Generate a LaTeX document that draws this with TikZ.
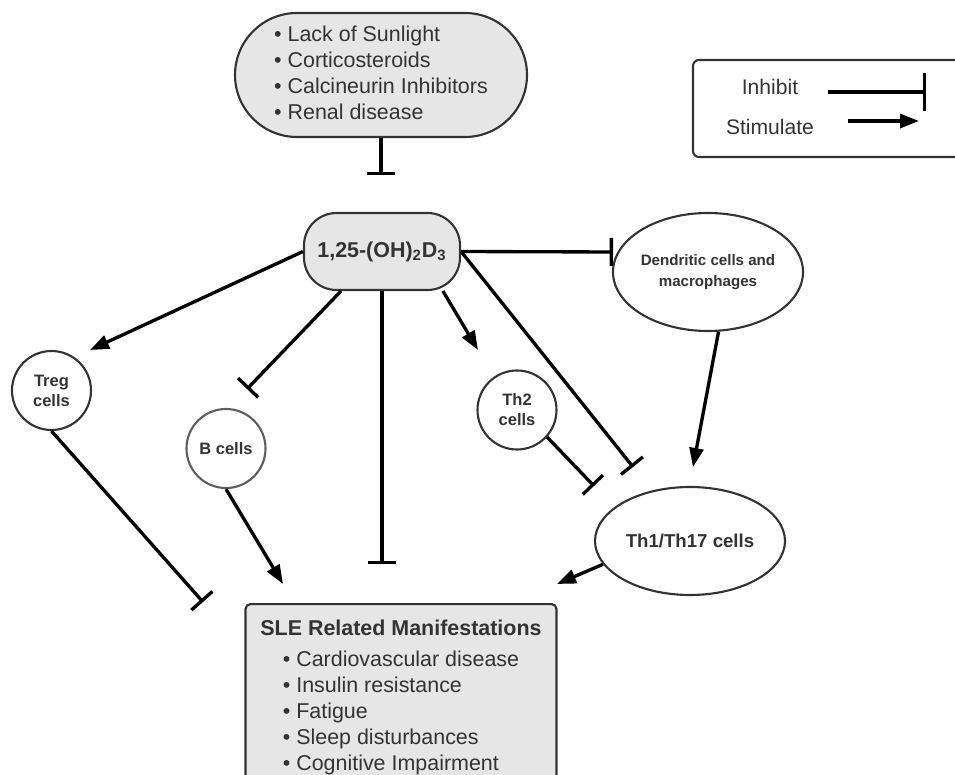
\documentclass[tikz,border=0pt]{standalone}
\usepackage{fontspec}
\setmainfont{Liberation Sans}
\usepackage{xcolor}
\usepackage{tikz}
\usetikzlibrary{arrows.meta,shapes.geometric}
\definecolor{ink}{HTML}{333333}
\definecolor{boxgray}{HTML}{E6E6E6}
\definecolor{midgray}{HTML}{5E5E5E}

\begin{document}
\begin{tikzpicture}[
  x=0.2mm,y=-0.2mm,
  every node/.style={text=ink},
  pill/.style={draw=ink,line width=1.2pt,fill=boxgray,rounded corners=12.4mm,
    minimum width=58.4mm,minimum height=24.8mm,font=\fontsize{12.2}{14.8}\selectfont},
  hormone/.style={draw=ink,line width=1.2pt,fill=boxgray,rounded corners=6.5mm,
    minimum width=31.2mm,minimum height=15.4mm,font=\bfseries\fontsize{12.2}{14.8}\selectfont},
  cell/.style={circle,draw=ink,line width=1.2pt,minimum size=15.8mm,inner sep=0pt,
    align=center,font=\bfseries\fontsize{9.4}{11.4}\selectfont},
  oval/.style={ellipse,draw=ink,line width=1.2pt,inner sep=0pt,align=center},
  outcome/.style={draw=ink,line width=1.2pt,fill=boxgray,rounded corners=1mm,anchor=north,
    minimum width=62.2mm,inner ysep=3.2mm,align=center,font=\fontsize{12.2}{14.8}\selectfont},
  legendbox/.style={draw=ink,line width=1.2pt,rounded corners=1.2mm,
    minimum width=56.4mm,minimum height=19.4mm},
  legendtext/.style={font=\fontsize{12}{14.4}\selectfont},
  stim/.style={-{Triangle[length=3.8mm,width=2.8mm]},line width=1.9pt,draw=black},
  inh/.style={-{Bar[width=5.6mm]},line width=1.9pt,draw=black}
]
\useasboundingbox (0,0) rectangle (955,775);

% legend
\node[legendbox] (legend) at (834,108.5) {};
\node[legendtext] (inhlbl) at (770,87) {Inhibit};
\node[legendtext] (stimlbl) at (770,127) {Stimulate};
\coordinate (inhfrom) at (828,92);
\coordinate (inhto) at (926,92);
\coordinate (stimfrom) at (848,121);
\coordinate (stimto) at (919,121);
\draw[inh,-{Bar[width=7.6mm]}] (inhfrom)--(inhto);
\draw[stim] (stimfrom)--(stimto);

% nodes
\node[pill] (causes) at (381,75) {\begin{tabular}{@{}l@{}}
  \textbullet\ Lack of Sunlight\\
  \textbullet\ Corticosteroids\\
  \textbullet\ Calcineurin Inhibitors\\
  \textbullet\ Renal disease
\end{tabular}};
\node[hormone] (vitd) at (382,251.5) {1,25-(OH)\textsubscript{2}D\textsubscript{3}};
\node[oval,minimum width=29.6mm,minimum height=23.6mm,
  font=\bfseries\fontsize{8.6}{11.8}\selectfont] (dc) at (708,272) {Dendritic cells and\\macrophages};
\node[cell] (treg) at (51.5,390.5) {Treg\\cells};
\node[cell,draw=midgray] (bcell) at (226,448.5) {B cells};
\node[cell] (th2) at (517,410) {Th2\\cells};
\node[oval,minimum width=38mm,minimum height=21.6mm,
  font=\bfseries\fontsize{10.6}{12.8}\selectfont] (th1) at (690,541) {Th1/Th17 cells};
\node[outcome] (sle) at (401,603) {{\bfseries SLE Related Manifestations}\\[2.8pt]
  \begin{tabular}[t]{@{}l@{}}
  \textbullet\ Cardiovascular disease\\
  \textbullet\ Insulin resistance\\
  \textbullet\ Fatigue\\
  \textbullet\ Sleep disturbances\\
  \textbullet\ Cognitive Impairment
  \end{tabular}};

% free ends
\coordinate (causebar) at (381,175);
\coordinate (dcbar) at (613,252);
\coordinate (bbar) at (247,389);
\coordinate (slebar) at (382,564);
\coordinate (th1bar) at (633,467);
\coordinate (th2bar) at (594,486);
\coordinate (tregbar) at (203,602);
\coordinate (tregtip) at (90,350);
\coordinate (th2tip) at (478,350);
\coordinate (th1tip) at (693,467);
\coordinate (bcelltip) at (283,584);
\coordinate (th1sletip) at (557,584);

% connectors
\draw[inh] (causes.south)--(causebar);
\draw[inh] (vitd.east)--(dcbar);
\draw[inh] (vitd.east)--(th1bar);
\draw[inh] (vitd.224)--(bbar);
\draw[inh] (vitd.south)--(slebar);
\draw[inh] (th2.-42)--(th2bar);
\draw[inh] (treg.south)--(tregbar);
\draw[stim] (vitd.west)--(tregtip);
\draw[stim] (vitd.-33)--(th2tip);
\draw[stim] (dc.280)--(th1tip);
\draw[stim] (bcell.south)--(bcelltip);
\draw[stim] (th1.195)--(th1sletip);
\end{tikzpicture}
\end{document}
